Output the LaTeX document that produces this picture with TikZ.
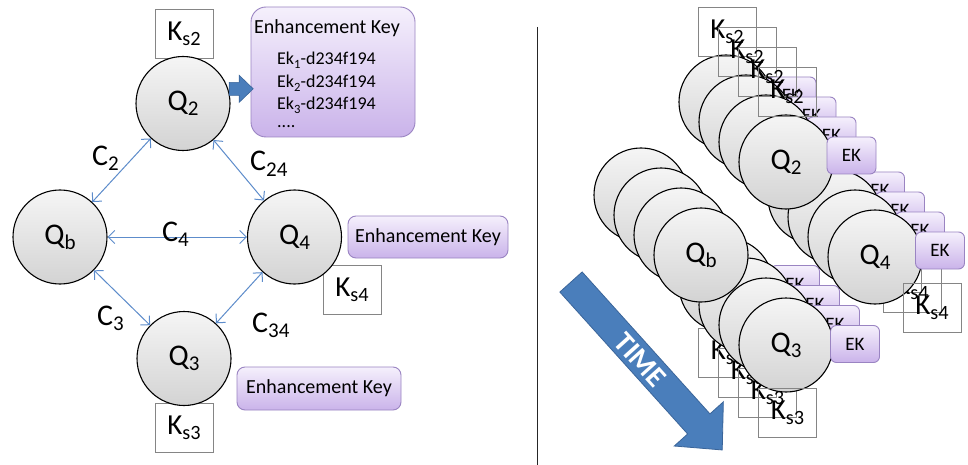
\documentclass[tikz,border=0pt]{standalone}
\usepackage{fontspec}
\setmainfont{Carlito}
\usetikzlibrary{arrows.meta}

\definecolor{linkblue}{HTML}{5D8CCB}
\definecolor{blockblue}{HTML}{4A7EBB}
\definecolor{blockedge}{HTML}{3A659A}
\definecolor{keytop}{HTML}{F5F0FC}
\definecolor{keybot}{HTML}{CAB3EA}
\definecolor{keyedge}{HTML}{9A84C2}
\definecolor{ksedge}{HTML}{858585}
\definecolor{qtop}{HTML}{F5F5F5}
\definecolor{qbot}{HTML}{D3D3D3}

% lowered, reduced subscript in the text font
\newcommand\sbs[1]{\raisebox{-0.17em}{\scalebox{0.7}{#1}}}
\newcommand\fs[1]{\fontsize{#1}{#1}\selectfont}

\begin{document}
\begin{tikzpicture}[x=1pt,y=-1pt,
  qnode/.style={circle, draw=black, line width=1.1pt, top color=qtop, bottom color=qbot,
                minimum size=94pt, inner sep=0pt, font=\fs{30}},
  keybox/.style={draw=keyedge, line width=0.9pt, rounded corners=8pt,
                 top color=keytop, bottom color=keybot, inner sep=0pt},
  ekbox/.style={keybox, rounded corners=6pt, minimum width=49pt, minimum height=37pt, font=\fs{19}},
  ksbox/.style={draw=ksedge, line width=0.8pt, inner sep=0pt,
                minimum width=58pt, minimum height=49pt, font=\fs{29}},
  link/.style={draw=linkblue, line width=1pt,
               {Straight Barb[length=6.5pt,width=13pt]}-{Straight Barb[length=6.5pt,width=13pt]}},
  clabel/.style={anchor=base west, inner sep=0pt, font=\fs{30}},
  plain/.style={anchor=base west, inner sep=0pt},
]
\useasboundingbox (0,0) rectangle (968,465);
\fill[white] (0,0) rectangle (968,465);

% ---------------- left: the key graph ----------------
\node[ksbox, fill=white] (ks2) at (184,33.5) {K\sbs{s2}};
\node[ksbox, fill=white] (ks4) at (352,289.5) {K\sbs{s4}};
\node[ksbox, fill=white] (ks3) at (184,428) {K\sbs{s3}};

\node[qnode] (Qb) at (60,237) {Q\sbs{b}};
\node[qnode] (Q2) at (183,103.5) {Q\sbs{2}};
\node[qnode] (Q4) at (294.5,237) {Q\sbs{4}};
\node[qnode] (Q3) at (184,358.5) {Q\sbs{3}};

\draw[link] (Qb) -- (Q2);
\draw[link] (Q2) -- (Q4);
\draw[link] (Qb) -- (Q4);
\draw[link] (Qb) -- (Q3);
\draw[link] (Q4) -- (Q3);

\node[clabel] (c2)  at (92,165)  {C\sbs{2}};
\node[clabel] (c24) at (250,171) {C\sbs{24}};
\node[clabel] (c4)  at (162,241) {C\sbs{4}};
\node[clabel] (c3)  at (97,325)  {C\sbs{3}};
\node[clabel] (c34) at (252,332) {C\sbs{34}};

% enhancement key list of Q2
\node[keybox, rounded corners=15pt, minimum width=164pt, minimum height=130pt] (bigkey) at (333,72) {};
\node[plain, font=\fs{20}] (ektitle) at (254,34) {Enhancement Key};
\node[plain, font=\fs{18}] (ek1) at (277,65) {Ek\sbs{1}-d234f194};
\node[plain, font=\fs{18}] (ek2) at (277,88) {Ek\sbs{2}-d234f194};
\node[plain, font=\fs{18}] (ek3) at (277,110) {Ek\sbs{3}-d234f194};
\node[plain, font=\fs{18}] (ekdots) at (277,128) {....};

% block arrow from Q2 to its key list
\coordinate (bt) at (Q2.18);
\draw[draw=blockedge, fill=blockblue, line width=0.6pt]
  (bt) ++(1,-6.5) -- ++(10,0) -- ++(0,-7) -- ++(14,13.5) -- ++(-14,13.5)
  -- ++(0,-7) -- ++(-10,0) -- cycle;

\node[keybox, minimum width=160pt, minimum height=42pt, font=\fs{20}] (key4) at (428,237) {Enhancement Key};
\node[keybox, minimum width=164pt, minimum height=43pt, font=\fs{20}] (key3) at (319,388.5) {Enhancement Key};

% divider
\draw[line width=1pt, black!85] (537,27) -- (537,465);

% ---------------- right: the graph repeated over time ----------------
\foreach \k in {0,1,2,3}{
  \pgfmathsetmacro\o{20*(\k-3)}
  \begin{scope}[shift={(\o,\o)}]
    % Q3 column
    \node[qnode] (r3-\k) at (786,345) {\ifnum\k=3 Q\sbs{3}\fi};
    \node[ekbox] (re3-\k) at (855,344) {EK};
    \node[ksbox] (rk3-\k) at (787.5,412.5) {K\sbs{s3}};
    % Qb column
    \node[qnode] (rb-\k) at (701,255) {\ifnum\k=3 Q\sbs{b}\fi};
    % Q4 column
    \node[qnode] (r4-\k) at (875,257) {\ifnum\k=3 Q\sbs{4}\fi};
    \node[ekbox] (re4-\k) at (940,250.5) {EK};
    \node[ksbox] (rk4-\k) at (932,307.5) {K\sbs{s4}};
    % Q2 column
    \node[qnode] (r2-\k) at (786,162) {\ifnum\k=3 Q\sbs{2}\fi};
    \node[ekbox] (re2-\k) at (851.5,155.5) {EK};
    \node[ksbox] (rk2-\k) at (787,91.5) {K\sbs{s2}};
  \end{scope}
}

% time arrow
\begin{scope}[shift={(571,282)}, rotate=-48]
  \draw[fill=blockblue, draw=blockedge, line width=0.8pt]
    (0,-15) -- (191,-15) -- (191,-33) -- (226,0) -- (191,33) -- (191,15) -- (0,15) -- cycle;
\end{scope}
\node[rotate=-48, text=white, font=\fs{29}\bfseries] (time) at (640,360) {TIME};
\end{tikzpicture}
\end{document}
